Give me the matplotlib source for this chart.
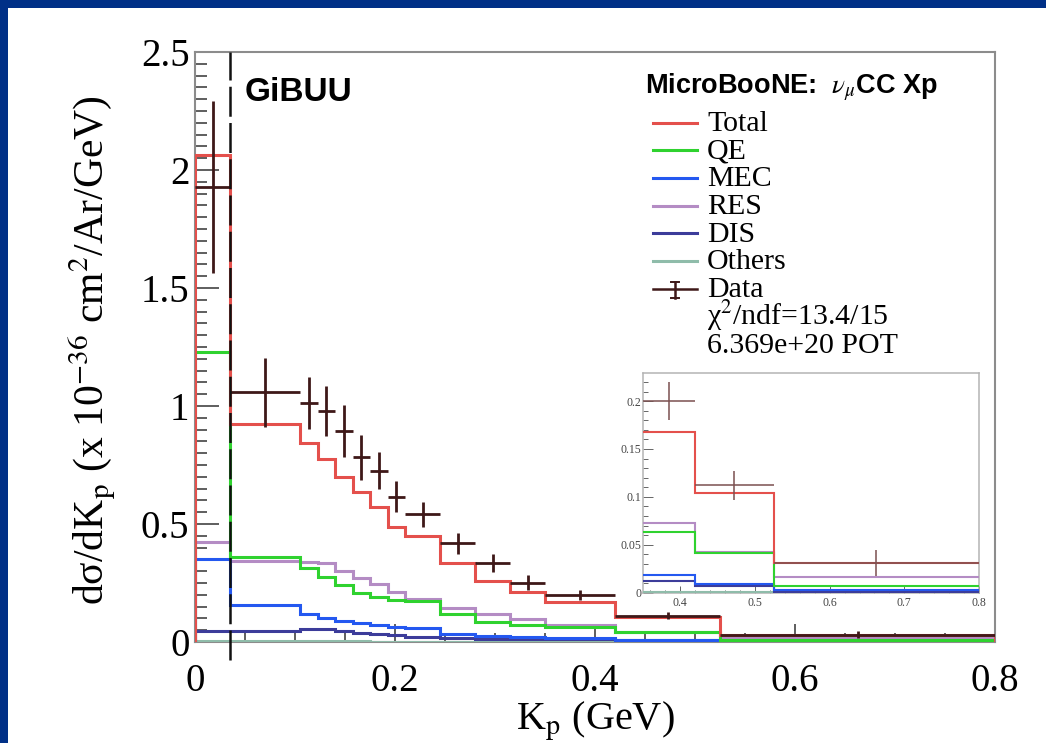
import numpy as np
import matplotlib
matplotlib.use("Agg")
import matplotlib.pyplot as plt
from matplotlib.ticker import MultipleLocator, FuncFormatter
from matplotlib.lines import Line2D
from matplotlib.patches import Rectangle

plt.rcParams['font.family'] = ['Liberation Serif', 'DejaVu Serif']
plt.rcParams['mathtext.fontset'] = 'stix'

# ---------- data ----------
edges = [0, 0.035, 0.105, 0.1225, 0.14, 0.1575, 0.175, 0.1925, 0.21,
         0.245, 0.28, 0.315, 0.35, 0.42, 0.525, 0.8]
total = [2.064, 0.922, 0.842, 0.775, 0.700, 0.634, 0.573, 0.489, 0.450,
         0.333, 0.260, 0.213, 0.168, 0.104, 0.031]
qe = [1.228, 0.362, 0.312, 0.277, 0.242, 0.206, 0.192, 0.178, 0.172,
      0.119, 0.086, 0.072, 0.063, 0.041, 0.0073]
mec = [0.352, 0.155, 0.120, 0.102, 0.091, 0.082, 0.072, 0.065, 0.058,
       0.032, 0.024, 0.021, 0.0185, 0.0087, 0.003]
res = [0.422, 0.345, 0.338, 0.335, 0.302, 0.270, 0.247, 0.210, 0.183,
       0.145, 0.120, 0.096, 0.0724, 0.042, 0.016]
dis = [0.047, 0.048, 0.054, 0.055, 0.048, 0.040, 0.034, 0.028, 0.023,
       0.016, 0.014, 0.013, 0.0126, 0.0073, 0.001]
others = [0.005, 0.004, 0.004, 0.003, 0.003, 0.003, 0.002, 0.002, 0.002,
          0.002, 0.001, 0.001, 0.001, 0.0008, 0.0003]
data = [1.929, 1.059, 1.013, 0.979, 0.895, 0.783, 0.725, 0.616, 0.542,
        0.418, 0.336, 0.251, 0.200, 0.112, 0.031]
data_err = [0.365, 0.146, 0.110, 0.104, 0.110, 0.095, 0.078, 0.066, 0.053,
            0.045, 0.039, 0.032, 0.020, 0.015, 0.0135]

series = [  # label, values, colour
    ('Total', total, '#e4504c'),
    ('QE', qe, '#2fd22f'),
    ('MEC', mec, '#2458f0'),
    ('RES', res, '#b48cc4'),
    ('DIS', dis, '#3c3c9a'),
    ('Others', others, '#8fbcaa'),
]
DATA_C = '#3e1818'

# ---------- figure ----------
W, H = 1046, 743
fig = plt.figure(figsize=(W / 100, H / 100), dpi=100)
fig.patch.set_facecolor('#003087')
fig.patches.append(Rectangle((8 / W, 0), 1 - 8 / W, 1 - 8 / H,
                             transform=fig.transFigure, facecolor='white',
                             edgecolor='none', zorder=-10))


def fx(x):
    return x / W


def fy(y):
    return 1 - y / H


def gfmt(v, pos):
    return '%g' % round(v, 6)


# ---------- main axes ----------
ax = fig.add_axes([fx(195), fy(642), 800 / W, 590 / H])
ax.set_facecolor('white')

edges_a = np.array(edges)
centers = 0.5 * (edges_a[1:] + edges_a[:-1])
halfw = 0.5 * (edges_a[1:] - edges_a[:-1])

for label, vals, col in series[::-1]:
    ax.stairs(vals, edges, baseline=0, color=col, lw=2.2, zorder=3)

ax.errorbar(centers, data, xerr=halfw, yerr=data_err, fmt='none',
            ecolor=DATA_C, elinewidth=2.0, capsize=0, zorder=4)

ax.axvline(0.035, ymin=-18 / 590, ymax=1, color='#111111', lw=1.8,
           dashes=(12, 2.5), clip_on=False, zorder=5)

ax.set_xlim(0, 0.8)
ax.set_ylim(0, 2.5)
ax.xaxis.set_major_locator(MultipleLocator(0.2))
ax.xaxis.set_minor_locator(MultipleLocator(0.05))
ax.yaxis.set_major_locator(MultipleLocator(0.5))
ax.yaxis.set_minor_locator(MultipleLocator(0.05))
ax.xaxis.set_major_formatter(FuncFormatter(gfmt))
ax.yaxis.set_major_formatter(FuncFormatter(gfmt))
ax.tick_params(axis='both', which='both', direction='in', top=False,
               right=False, color='#333333', width=1.1, labelsize=28)
ax.tick_params(axis='x', which='major', length=12.7, pad=15)
ax.tick_params(axis='x', which='minor', length=6.4)
ax.tick_params(axis='y', which='major', length=17.3, pad=4)
ax.tick_params(axis='y', which='minor', length=8.6)
for s in ax.spines.values():
    s.set_color('#8c8c8c')
    s.set_linewidth(1.5)

fig.text(fx(595), fy(730), r'K$_{\mathrm{p}}$ (GeV)', fontsize=29,
         ha='center', va='baseline')
fig.text(fx(92), fy(350),
         'dσ/dK$_{\\mathrm{p}}$ (x 10$^{\\mathrm{-36}}$ cm$^{\\mathrm{2}}$/Ar/GeV)',
         fontsize=30, rotation=90, ha='center', va='center')

fig.text(fx(245), fy(101), 'GiBUU', family='Liberation Sans',
         weight='bold', fontsize=24, va='baseline')

# ---------- legend (ROOT style, drawn by hand) ----------
fig.text(fx(645), fy(93.3), r'MicroBooNE:  $\nu_{\mu}$CC Xp',
         family='Liberation Sans', weight='bold', fontsize=19.5,
         va='baseline')
base0, step = 131.0, 27.7
LFS = 21.5
for i, (label, vals, col) in enumerate(series):
    b = base0 + i * step
    fig.lines.append(Line2D([fx(653), fx(697)], [fy(b - 8.5)] * 2,
                            transform=fig.transFigure, color=col, lw=2.2))
    fig.text(fx(707), fy(b), label, fontsize=LFS, va='baseline')
b = base0 + 6 * step
yl = b - 8
fig.lines.append(Line2D([fx(653), fx(697)], [fy(yl)] * 2,
                        transform=fig.transFigure, color=DATA_C, lw=1.8))
fig.lines.append(Line2D([fx(675), fx(675)], [fy(yl - 7), fy(yl + 9)],
                        transform=fig.transFigure, color=DATA_C, lw=1.8))
for yc in (yl - 7, yl + 9):
    fig.lines.append(Line2D([fx(671), fx(679)], [fy(yc)] * 2,
                            transform=fig.transFigure, color=DATA_C, lw=1.4))
fig.text(fx(707), fy(b), 'Data', fontsize=LFS, va='baseline')
fig.text(fx(707), fy(b + step), 'χ$^{\\mathrm{2}}$/ndf=13.4/15', fontsize=LFS,
         va='baseline')
fig.text(fx(707), fy(b + 2 * step), '6.369e+20 POT', fontsize=LFS,
         va='baseline')

# ---------- inset ----------
ax2 = fig.add_axes([fx(643), fy(592.7), 336 / W, 219.4 / H])
ax2.set_facecolor('white')
for label, vals, col in series[::-1]:
    ax2.stairs(vals[12:], edges[12:], baseline=None, color=col, lw=1.5,
               zorder=3)
ax2.errorbar(centers, data, xerr=halfw, yerr=data_err, fmt='none',
             ecolor='#7a5050', elinewidth=1.1, capsize=0, zorder=4)
ax2.set_xlim(0.35, 0.8)
ax2.set_ylim(0, 0.229)
ax2.xaxis.set_major_locator(MultipleLocator(0.1))
ax2.xaxis.set_minor_locator(MultipleLocator(0.02))
ax2.yaxis.set_major_locator(MultipleLocator(0.05))
ax2.yaxis.set_minor_locator(MultipleLocator(0.01))
ax2.xaxis.set_major_formatter(FuncFormatter(gfmt))
ax2.yaxis.set_major_formatter(FuncFormatter(gfmt))
ax2.tick_params(axis='both', which='both', direction='in', top=False,
                right=False, color='#666666', width=0.7, labelsize=8.5,
                labelcolor='#444444')
ax2.tick_params(axis='x', which='major', length=5, pad=3)
ax2.tick_params(axis='x', which='minor', length=2.5)
ax2.tick_params(axis='y', which='major', length=7, pad=1)
ax2.tick_params(axis='y', which='minor', length=3.5)
for s in ax2.spines.values():
    s.set_color('#b4b4b4')
    s.set_linewidth(1.1)

fig.savefig('out.png', dpi=100, facecolor=fig.get_facecolor())
